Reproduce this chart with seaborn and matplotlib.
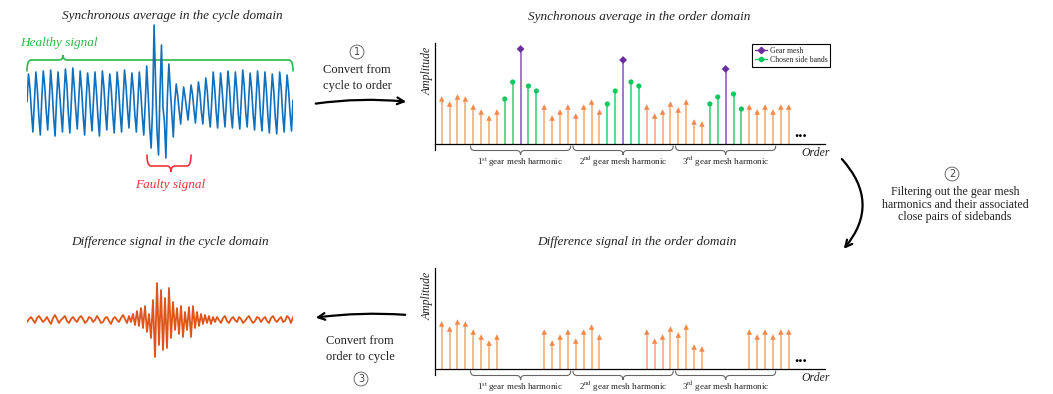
import numpy as np
import pandas as pd
import matplotlib
matplotlib.use("Agg")
import matplotlib.pyplot as plt
import seaborn as sns
from matplotlib.path import Path
from matplotlib.patches import PathPatch, FancyArrowPatch
from matplotlib.lines import Line2D

# ---------------- data ----------------
# synchronous average, cycle domain: one tuple per oscillation cycle
# (peak, falling point, falling point, trough, rising point), px deviation from centre
healthy_cycles = [
    (28, 14, -10, -30, 1), (30, 12, -14, -33, 3), (31, 16, -9, -28, -1),
    (32, 13, -15, -34, 2), (30, 11, -11, -30, 4), (33, 17, -12, -31, 0),
    (34, 15, -8, -27, 3), (31, 12, -14, -33, 1), (29, 15, -10, -29, 2),
    (30, 10, -15, -34, -1), (31, 16, -9, -28, 3), (28, 13, -12, -31, 0),
    (30, 14, -11, -30, 2), (32, 16, -7, -26, 4), (29, 12, -13, -30, 1),
    (30, 10, -14, -33, -2), (36, 8, -25, -46, -5), (77, 20, -30, -53, 10),
    (57, -5, -20, -56, 5), (38, 12, -12, -35, 0), (18, 6, -9, -22, -2),
    (15, 5, -7, -18, 0), (17, 8, -8, -21, -1), (20, 9, -10, -22, 1),
    (24, 11, -11, -25, 0), (30, 14, -10, -26, 2), (29, 13, -9, -25, 3),
    (31, 15, -11, -26, 1), (30, 12, -12, -27, 2), (32, 16, -10, -25, 3),
    (29, 13, -12, -28, 1), (31, 14, -13, -29, 0), (30, 12, -14, -31, 2),
    (28, 11, -15, -32, -1), (30, 14, -12, -30, 1), (27, 12, -11, -29, 2),
]
# difference signal, cycle domain (px deviation from centre)
difference_trace = [
    -2, 1, 3, 0, -3, 2, 4, 1, -2, 0, 3, -1, -4, 2, 5, 1, -3, 0, 2, 4, -1, -3, 1, 3, 0,
    -2, 2, 4, 1, -3, -1, 3, 2, -2, 0, 4, 1, -3, -2, 2, 3, -1, -4, 1, 3, 0, -2, 2, 5, 1, -3,
    4, -2, 6, -5, 9, -6, 12, -8, 14, -12, 6, -18, 20, -37, 37, -25, 30, -30, 22, -28, 32,
    -18, 18, -10, 12, -14, 14, -17, 8, -10, 13, -17, 14, -8, 8, -6, 6, -4, 5, -3, 4, -4, 3, -2, 3,
    0, -3, 2, 4, -1, -3, 1, 3, 0, -2, 3, 1, -3, -1, 2, 4, 0, -3, -1, 3, 2, -2, 1, 3, -1,
    -3, 2, 4, 0, -2, 1, 3, -2, -1, 4, 2, -3, 3,
]
# order domain spectrum
orders = list(range(45))
amplitudes = [45, 40, 47, 45, 37, 32, 26, 32, 45, 62, 95, 58, 53, 37, 26, 32, 37, 28, 37, 42,
              32, 40, 53, 84, 62, 58, 37, 28, 32, 40, 34, 42, 22, 20, 40, 47, 75, 50, 35, 37,
              32, 37, 32, 37, 37]
gear_mesh_orders = [10, 23, 36]
sideband_orders = [8, 9, 11, 12, 21, 22, 24, 25, 34, 35, 37, 38]
harmonic_labels = [r"1$^{\rm st}$ gear mesh harmonic",
                   r"2$^{\rm nd}$ gear mesh harmonic",
                   r"3$^{\rm rd}$ gear mesh harmonic"]
legend_labels = ["Gear mesh", "Chosen side bands"]

# ---------------- style ----------------
sns.set_theme(style="white")
plt.rcParams["font.family"] = ["Liberation Serif", "DejaVu Serif"]
plt.rcParams["mathtext.fontset"] = "stix"

W, H = 1053, 394
BLUE = "#1070BE"
DIFF = "#DF5418"
OR_LINE = "#F6AE7C"
OR_HEAD = "#F08A4C"
PUR_LINE = "#9060C0"
PUR = "#6B2E9E"
GR_LINE = "#45CF80"
GR = "#0EC75E"
TXT = "#222222"

fig = plt.figure(figsize=(W / 100, H / 100), dpi=100)


def px_rect(x0, y0, x1, y1):
    return [x0 / W, 1 - y1 / H, (x1 - x0) / W, (y1 - y0) / H]


ov = fig.add_axes([0, 0, 1, 1])
ov.set_xlim(0, W)
ov.set_ylim(H, 0)
ov.axis("off")
ov.set_zorder(0)


def brace(x0, x1, xt, y_end, y_mid, y_tip, r, color, lw):
    verts = [(x0, y_end), (x0, y_mid), (x0 + r, y_mid),
             (xt - r, y_mid), (xt, y_mid), (xt, y_tip),
             (xt, y_mid), (xt + r, y_mid),
             (x1 - r, y_mid), (x1, y_mid), (x1, y_end)]
    codes = [Path.MOVETO, Path.CURVE3, Path.CURVE3, Path.LINETO, Path.CURVE3, Path.CURVE3,
             Path.CURVE3, Path.CURVE3, Path.LINETO, Path.CURVE3, Path.CURVE3]
    ov.add_patch(PathPatch(Path(verts, codes), fc="none", ec=color, lw=lw, capstyle="round"))


# ---------------- cycle-domain signals ----------------
healthy = [0.0] + [v for c in healthy_cycles for v in c]
ax1 = fig.add_axes(px_rect(27, 20, 293, 160))
sns.lineplot(x=np.linspace(0, 1, len(healthy)), y=healthy, ax=ax1, color=BLUE, lw=1.2)
ax1.set_xlim(0, 1)
ax1.set_ylim(-58, 82)
ax1.axis("off")
ax1.set_zorder(1)

ax3 = fig.add_axes(px_rect(27, 270, 293, 370))
sns.lineplot(x=np.linspace(0, 1, len(difference_trace)), y=difference_trace, ax=ax3,
             color=DIFF, lw=1.3)
ax3.set_xlim(0, 1)
ax3.set_ylim(-50, 50)
ax3.axis("off")
ax3.set_zorder(1)

brace(27, 293, 63, 71, 60, 55, 4, "#2DB84C", 1.2)
ov.text(59, 43, "Healthy signal", color="#2DB84C", style="italic", fontsize=9.5,
        ha="center", va="center")
brace(147, 191, 171, 155, 166, 172, 4, "#F0333C", 1.2)
ov.text(170, 185, "Faulty signal", color="#F0333C", style="italic", fontsize=9.5,
        ha="center", va="center")

# ---------------- order-domain panels ----------------
df = pd.DataFrame({"order": orders, "amplitude": amplitudes})
df["kind"] = "other"
df.loc[df["order"].isin(sideband_orders), "kind"] = "side"
df.loc[df["order"].isin(gear_mesh_orders), "kind"] = "mesh"


def order_panel(top, full):
    ax = fig.add_axes(px_rect(435, top, 825, top + 107))
    ax.patch.set_alpha(0)
    ax.set_zorder(1)
    sub = df[df["kind"] == "other"]
    ax.vlines(sub["order"], 0, sub["amplitude"] - 2, color=OR_LINE, lw=1.2, zorder=2)
    sns.scatterplot(data=sub, x="order", y="amplitude", marker="^", s=16, color=OR_HEAD,
                    edgecolor="none", ax=ax, zorder=3, legend=False)
    if full:
        side = df[df["kind"] == "side"]
        mesh = df[df["kind"] == "mesh"]
        ax.vlines(side["order"], 0, side["amplitude"], color=GR_LINE, lw=1.2, zorder=2)
        ax.vlines(mesh["order"], 0, mesh["amplitude"], color=PUR_LINE, lw=1.2, zorder=2)
        sns.scatterplot(data=side, x="order", y="amplitude", marker="o", s=14, color=GR,
                        edgecolor="none", ax=ax, zorder=3, legend=False)
        sns.scatterplot(data=mesh, x="order", y="amplitude", marker="D", s=16, color=PUR,
                        edgecolor="none", ax=ax, zorder=3, legend=False)
    ax.set_xlim(-0.85, 48.6)
    ax.set_ylim(-6, 101)
    ax.set_xlabel("")
    ax.set_ylabel("")
    ax.set_xticks([])
    ax.set_yticks([])
    for s in ["top", "right"]:
        ax.spines[s].set_visible(False)
    for s in ["left", "bottom"]:
        ax.spines[s].set_color("black")
        ax.spines[s].set_linewidth(0.9)
    ax.spines["bottom"].set_position(("data", 0))
    base = ax.transData.transform((0, 0))[1]
    base_px = H - base
    for gm, lab in zip(gear_mesh_orders, harmonic_labels):
        xl = ax.transData.transform((gm - 6.35, 0))[0]
        xr = ax.transData.transform((gm + 6.35, 0))[0]
        xc = ax.transData.transform((gm, 0))[0]
        brace(xl, xr, xc, base_px + 2, base_px + 6.5, base_px + 11, 4, "#666666", 0.8)
        ov.text(xc, base_px + 18, lab, fontsize=6.5, ha="center", va="center", color=TXT)
    ov.text(428, top + 28, "Amplitude", rotation=90, style="italic", fontsize=8.5,
            ha="center", va="center", color=TXT)
    ov.text(816, base_px + 9, "Order", style="italic", fontsize=8.5, ha="center",
            va="center", color=TXT)
    ov.text(801, base_px - 11, "...", fontsize=12, fontweight="bold", ha="center",
            va="center", color="black")
    return ax


ax2 = order_panel(43, True)
ax4 = order_panel(268, False)

handles = [Line2D([], [], color=PUR, lw=1.0, marker="D", markersize=3.2),
           Line2D([], [], color=GR, lw=1.0, marker="o", markersize=3.0)]
leg = fig.legend(handles, legend_labels, loc="upper right",
                 bbox_to_anchor=(830 / W, 1 - 44 / H), fontsize=5.6, frameon=True,
                 fancybox=False, edgecolor="black", framealpha=1, borderpad=0.35,
                 handlelength=1.6, handletextpad=0.3, labelspacing=0.15, borderaxespad=0)
leg.get_frame().set_linewidth(0.8)

# ---------------- titles ----------------
title_kw = dict(style="italic", fontsize=9.5, ha="center", va="center", color=TXT)
ov.text(172, 16, "Synchronous average in the cycle domain", **title_kw)
ov.text(639, 17, "Synchronous average in the order domain", **title_kw)
ov.text(170, 242, "Difference signal in the cycle domain", **title_kw)
ov.text(637, 242, "Difference signal in the order domain", **title_kw)

# ---------------- process steps ----------------
circ = dict(boxstyle="circle,pad=0.2", fc="white", ec="#555555", lw=0.6)
num_kw = dict(fontsize=7, ha="center", va="center", color="#444444",
              family=["DejaVu Sans"], bbox=circ)
ov.text(357, 52, "1", **num_kw)
ov.text(357, 78, "Convert from\ncycle to order", fontsize=9, ha="center", va="center",
        linespacing=1.35, color=TXT)
ov.text(952, 174, "2", **num_kw)
ov.text(955, 204.5, "Filtering out the gear mesh\nharmonics and their associated\nclose pairs of sidebands",
        fontsize=8.6, ha="center", va="center", linespacing=1.1, color=TXT)
ov.text(360, 349, "Convert from\norder to cycle", fontsize=9, ha="center", va="center",
        linespacing=1.35, color=TXT)
ov.text(361, 379, "3", **num_kw)

arr_kw = dict(arrowstyle="->", mutation_scale=12, lw=1.6, color="black")
ov.add_patch(FancyArrowPatch((313, 104), (409, 102), connectionstyle="arc3,rad=-0.063", **arr_kw))
ov.add_patch(FancyArrowPatch((840, 157), (842, 251), connectionstyle="arc3,rad=-0.45", **arr_kw))
ov.add_patch(FancyArrowPatch((408, 315), (313, 318), connectionstyle="arc3,rad=0.053", **arr_kw))

fig.savefig("out.png", dpi=100)
